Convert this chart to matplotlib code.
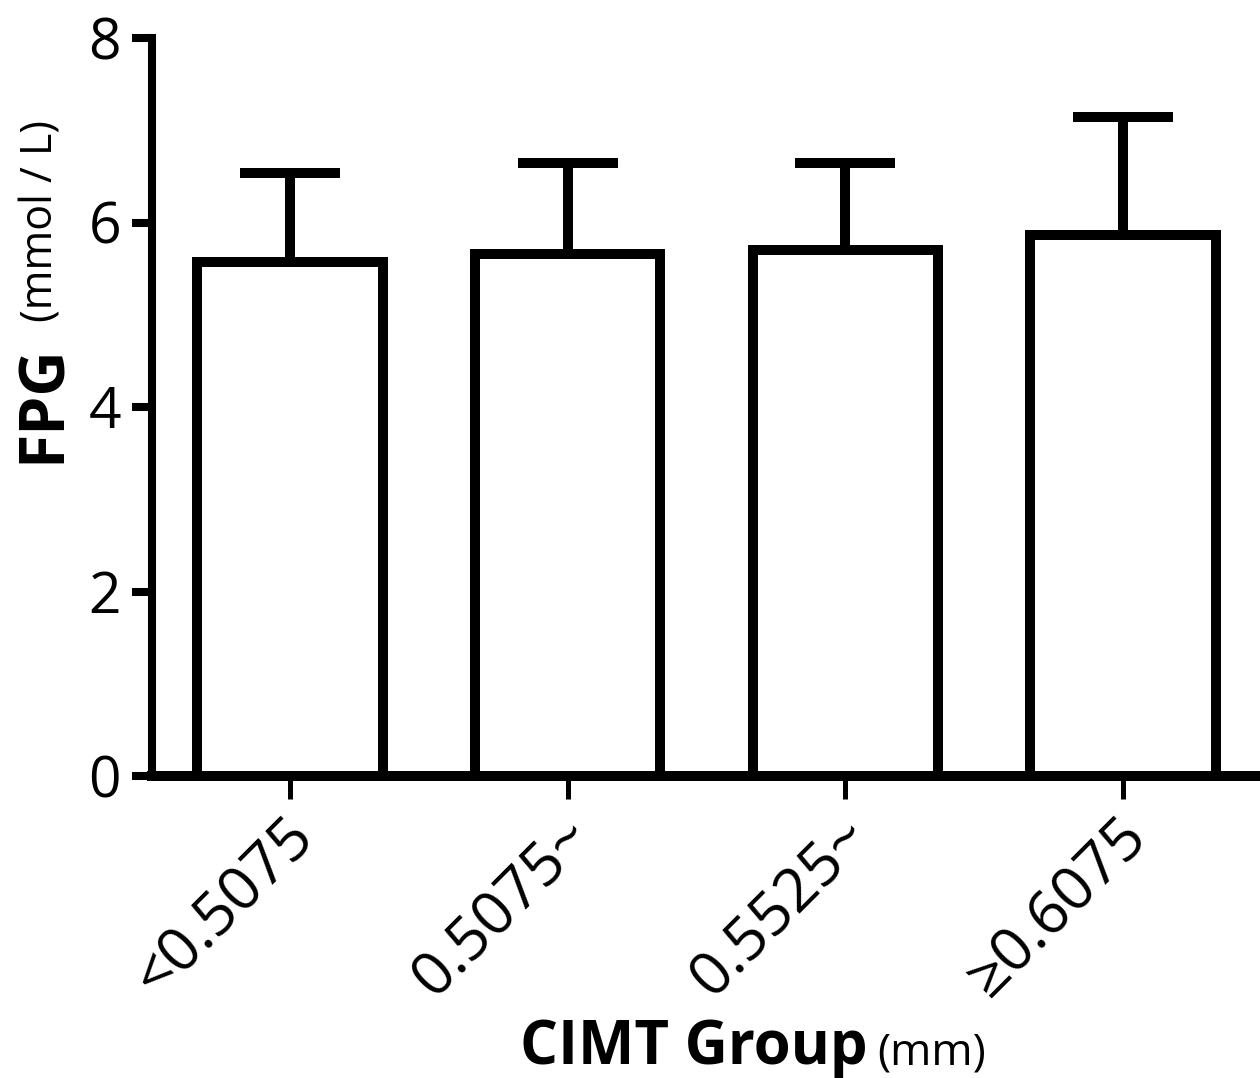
import matplotlib
matplotlib.use("Agg")
import matplotlib.pyplot as plt
import matplotlib.transforms as mtransforms
import numpy as np

# CIMT groups and FPG values (mean, upper SD)
groups = ['<0.5075', '0.5075~', '0.5525~', '\u22650.6075']
fpg_mean = [5.57, 5.66, 5.70, 5.86]
fpg_sd = [0.97, 0.99, 0.95, 1.28]
y_ticks = [0, 2, 4, 6, 8]

plt.rcParams['font.family'] = ['Open Sans', 'DejaVu Sans']

W, H = 1260, 1078
fig = plt.figure(figsize=(W / 100, H / 100), dpi=100)
ax = fig.add_axes([152 / W, 1 - 776 / H, (W - 152) / W, (776 - 38) / H])

x = np.arange(len(groups))
ax.errorbar(x, fpg_mean, yerr=[np.zeros(len(groups)), fpg_sd], fmt='none',
            ecolor='black', elinewidth=7.2, capsize=36, capthick=7.2, zorder=1)
ax.bar(x, fpg_mean, width=0.667, color='white', edgecolor='black',
       linewidth=7.2, zorder=2)

ax.set_xlim(-0.497, 3.493)
ax.set_ylim(0, 8)
ax.set_yticks(y_ticks)
ax.set_xticks(x)

for s in ['top', 'right']:
    ax.spines[s].set_visible(False)
ax.spines['left'].set_linewidth(5.8)
ax.spines['bottom'].set_linewidth(7.2)

ax.tick_params(axis='y', length=14.4, width=5.8, pad=8, labelsize=41)
ax.tick_params(axis='x', length=16.5, width=3.6, pad=5, labelsize=44)
ax.set_xticklabels(groups, rotation=45, ha='right', va='top',
                   rotation_mode='anchor')
offset = mtransforms.ScaledTranslation(-6 / 100, 0, fig.dpi_scale_trans)
for lbl in ax.get_xticklabels():
    lbl.set_transform(lbl.get_transform() + offset)

# axis titles: bold name plus smaller unit
fig.text(60 / W, 1 - 463 / H, 'FPG', rotation=90, rotation_mode='anchor',
         ha='left', va='baseline', fontsize=45, fontweight='bold')
fig.text(52 / W, 1 - 322 / H, '(mmol / L)', rotation=90, rotation_mode='anchor',
         ha='left', va='baseline', fontsize=31)
fig.text(520 / W, 1 - 1064 / H, 'CIMT Group', ha='left', va='baseline',
         fontsize=43, fontweight='bold')
fig.text(877 / W, 1 - 1064 / H, '(mm)', ha='left', va='baseline', fontsize=32)

fig.savefig('out.png', dpi=100)
